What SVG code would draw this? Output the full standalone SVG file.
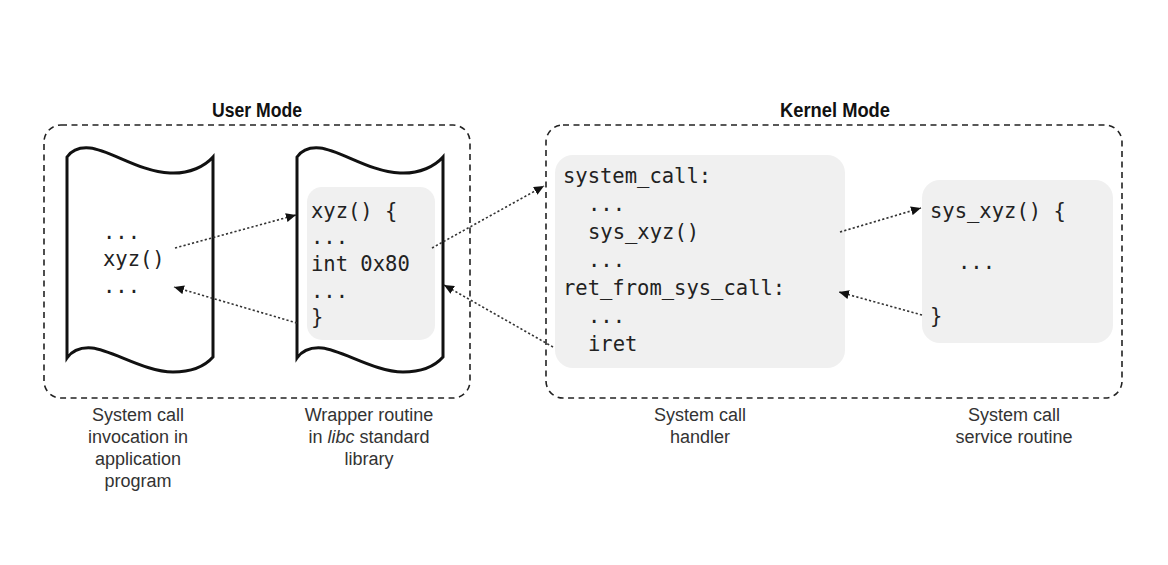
<svg xmlns="http://www.w3.org/2000/svg" width="1168" height="565" viewBox="0 0 1168 565">
<defs>
<style>
.mode{fill:none;stroke:#222;stroke-width:1.6;stroke-dasharray:6 4.5}
.title{font-family:"Liberation Sans",Arial,sans-serif;font-weight:bold;font-size:20px;fill:#111}
.page{fill:#fff;stroke:#111;stroke-width:3;stroke-linejoin:miter}
.panel{fill:#f0f0f0;stroke:none}
.code{font-family:"DejaVu Sans Mono","Liberation Mono",monospace;font-size:20.5px;fill:#222}
.cap{font-family:"Liberation Sans",Arial,sans-serif;font-size:18px;fill:#333;text-anchor:middle}
.conn{fill:none;stroke:#333;stroke-width:1.6;stroke-dasharray:2.2 2.2}
</style>
<marker id="ah" markerUnits="userSpaceOnUse" markerWidth="11" markerHeight="9" refX="10" refY="4.5" orient="auto">
<path d="M0,0 L10,4.5 L0,9 z" fill="#111"/>
</marker>
</defs>
<rect width="1168" height="565" fill="#fff"/>

<g id="user-mode">
<rect class="mode" x="44" y="125" width="426" height="273" rx="17"/>
<text class="title" x="257" y="117" text-anchor="middle" textLength="90" lengthAdjust="spacingAndGlyphs">User Mode</text>
</g>

<g id="kernel-mode">
<rect class="mode" x="546" y="125" width="576" height="273" rx="17"/>
<text class="title" x="835" y="117" text-anchor="middle" textLength="110" lengthAdjust="spacingAndGlyphs">Kernel Mode</text>
</g>

<g id="invocation">
<path class="page" d="M67,157 C72,150 80,147 90,148 C110,150 140,172 170,173 C190,174 205,166 213,157 L213,357 C205,366 192,372 173,372 C145,372 112,350 92,348 C80,347 72,351 67,358 Z"/>
<text class="code" x="103" y="239">...</text>
<text class="code" x="103" y="266">xyz()</text>
<text class="code" x="103" y="293">...</text>
<text class="cap" x="138" y="421">System call</text>
<text class="cap" x="138" y="443">invocation in</text>
<text class="cap" x="138" y="465">application</text>
<text class="cap" x="138" y="487">program</text>
</g>

<g id="wrapper">
<path class="page" d="M297,157 C302,150 310,147 320,148 C340,150 370,172 400,173 C420,174 435,166 443,157 L443,357 C435,366 422,372 403,372 C375,372 342,350 322,348 C310,347 302,351 297,358 Z"/>
<rect class="panel" x="307" y="187" width="128" height="153" rx="15"/>
<text class="code" x="311" y="218">xyz() {</text>
<text class="code" x="311" y="244">...</text>
<text class="code" x="311" y="271">int 0x80</text>
<text class="code" x="311" y="298">...</text>
<text class="code" x="311" y="324">}</text>
<text class="cap" x="369" y="421">Wrapper routine</text>
<text class="cap" x="369" y="443">in <tspan font-style="italic">libc</tspan> standard</text>
<text class="cap" x="369" y="465">library</text>
</g>

<g id="handler">
<rect class="panel" x="555" y="155" width="290" height="213" rx="18"/>
<text class="code" x="563" y="183">system_call:</text>
<text class="code" x="588" y="211">...</text>
<text class="code" x="588" y="239">sys_xyz()</text>
<text class="code" x="588" y="267">...</text>
<text class="code" x="563" y="295">ret_from_sys_call:</text>
<text class="code" x="588" y="323">...</text>
<text class="code" x="588" y="351">iret</text>
<text class="cap" x="700" y="421">System call</text>
<text class="cap" x="700" y="443">handler</text>
</g>

<g id="service">
<rect class="panel" x="922" y="180" width="191" height="163" rx="18"/>
<text class="code" x="930" y="218">sys_xyz() {</text>
<text class="code" x="958" y="269">...</text>
<text class="code" x="930" y="323">}</text>
<text class="cap" x="1014" y="421">System call</text>
<text class="cap" x="1014" y="443">service routine</text>
</g>

<g id="connectors">
<line class="conn" x1="175" y1="248" x2="296" y2="215" marker-end="url(#ah)"/>
<line class="conn" x1="297" y1="323" x2="174" y2="287" marker-end="url(#ah)"/>
<line class="conn" x1="432" y1="248" x2="544" y2="186" marker-end="url(#ah)"/>
<line class="conn" x1="553" y1="347" x2="444" y2="285" marker-end="url(#ah)"/>
<line class="conn" x1="840" y1="232" x2="921" y2="208" marker-end="url(#ah)"/>
<line class="conn" x1="922" y1="315" x2="839" y2="292" marker-end="url(#ah)"/>
</g>
</svg>
